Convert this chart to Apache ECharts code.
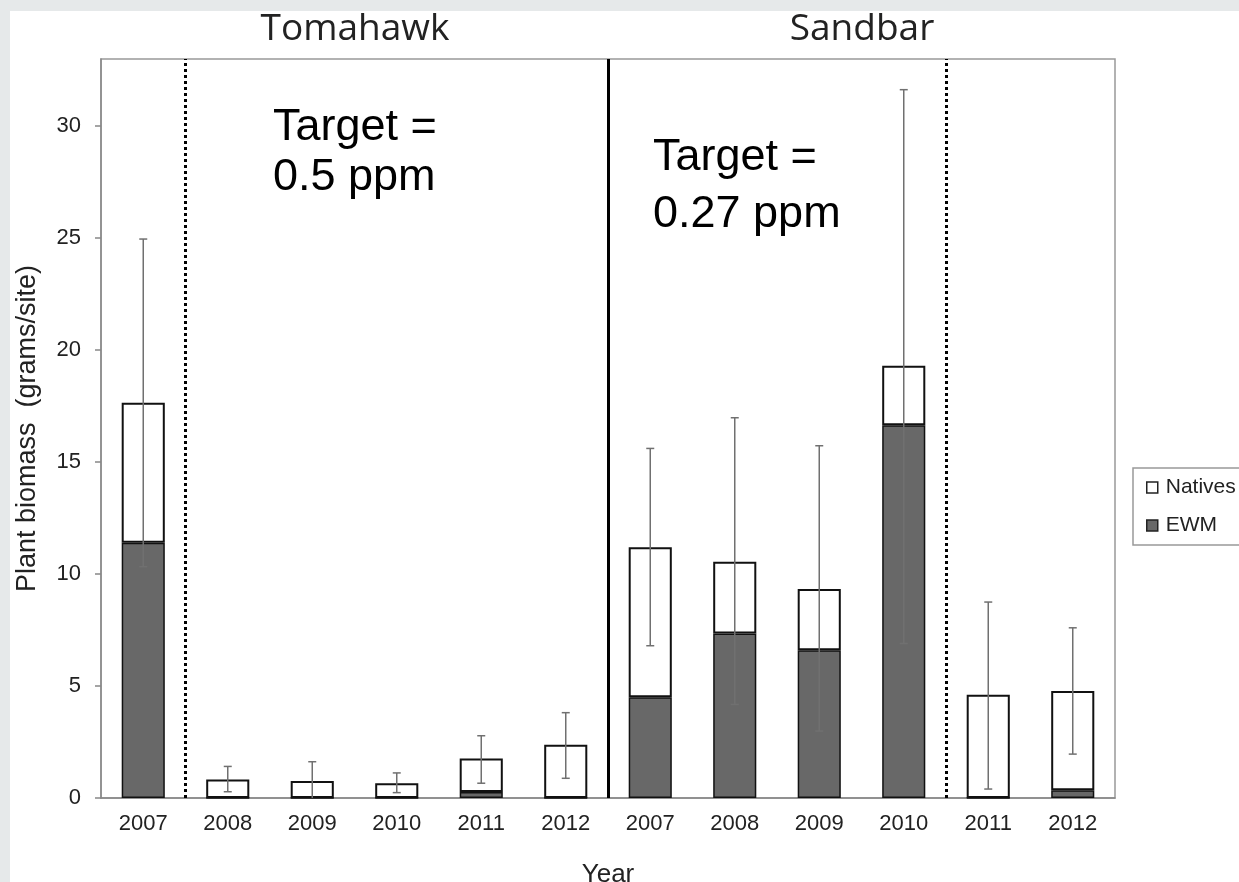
<!DOCTYPE html>
<html>
  <head>
    <meta charset="UTF-8" />
    <title>Plant biomass</title>
    <script src="https://cdn.jsdelivr.net/npm/echarts@6/dist/echarts.min.js"></script>
    <style>
      body { margin: 0; background: #e6e9ea; }
      #paper { position: absolute; left: 10px; top: 11px; right: 0; bottom: 0; background: #fff; }
      #chart { position: absolute; left: 0; top: 0; width: 1239px; height: 882px; }
    </style>
  </head>
  <body>
    <div id="paper"></div>
    <div id="chart"></div>
    <script>
      // tick labels (Tomahawk 2007-2012, then Sandbar 2007-2012)
      var years = ["2007", "2008", "2009", "2010", "2011", "2012",
                   "2007", "2008", "2009", "2010", "2011", "2012"];
      var ewm = [11.4, 0, 0, 0, 0.27, 0, 4.5, 7.35, 6.6, 16.65, 0, 0.35];
      // natives part stacked on top of EWM
      var natives = [6.25, 0.83, 0.76, 0.66, 1.49, 2.38, 6.7, 3.2, 2.73, 2.65, 4.61, 4.43];
      var errLow = [10.33, 0.28, 0, 0.24, 0.66, 0.88, 6.8, 4.18, 2.99, 6.9, 0.4, 1.96];
      var errHigh = [24.96, 1.41, 1.62, 1.12, 2.78, 3.81, 15.61, 16.98, 15.73, 31.63, 8.75, 7.6];
      // separators between groups, in category-boundary units
      var dividers = [1, 6, 10];
      var dividerSolid = [false, true, false];
      var yTicks = [0, 5, 10, 15, 20, 25, 30];

      var errData = [];
      for (var i = 0; i < years.length; i++) {
        errData.push([i, errLow[i], errHigh[i]]);
      }

      var lineData = [];
      for (var k = 0; k < dividers.length; k++) {
        lineData.push({
          xAxis: dividers[k],
          lineStyle: {
            color: "#000",
            width: 3,
            type: dividerSolid[k] ? "solid" : [3, 3],
          },
        });
      }

      var font = "Liberation Sans, Arial, sans-serif";

      var option = {
        animation: false,
        textStyle: { fontFamily: font },
        grid: {
          left: 101,
          right: 124,
          top: 59,
          bottom: 84,
          show: true,
          borderColor: "#999",
          borderWidth: 1.5,
          outerBoundsMode: "none",
        },
        legend: {
          data: ["Natives", "EWM"],
          orient: "vertical",
          left: 1133,
          top: 468,
          itemWidth: 11,
          itemHeight: 11,
          itemGap: 17,
          padding: [9, 14, 9, 13],
          borderColor: "#999",
          borderWidth: 1.5,
          backgroundColor: "#fff",
          icon: "rect",
          itemStyle: { borderColor: "#222", borderWidth: 1.5 },
          textStyle: { fontSize: 21, color: "#222", fontFamily: font, padding: [0, 0, 0, 3] },
        },
        xAxis: [
          {
            type: "category",
            data: years,
            boundaryGap: true,
            axisLine: { lineStyle: { color: "#888", width: 1.5 } },
            axisTick: { length: 6, lineStyle: { color: "#888", width: 1.5 } },
            axisLabel: { fontSize: 22, color: "#222", margin: 15 },
            name: "Year",
            nameLocation: "middle",
            nameGap: 64,
            nameTextStyle: { fontSize: 26, color: "#222" },
          },
          {
            type: "value",
            min: 0,
            max: 12,
            show: false,
          },
        ],
        yAxis: {
          type: "value",
          min: 0,
          max: 33,
          splitLine: { show: false },
          axisLine: { show: true, lineStyle: { color: "#888", width: 1.5 } },
          axisTick: { show: true, length: 6, customValues: yTicks, lineStyle: { color: "#888", width: 1.5 } },
          axisLabel: { fontSize: 22, color: "#222", margin: 20, customValues: yTicks },
          name: "Plant biomass  (grams/site)",
          nameLocation: "middle",
          nameGap: 60,
          nameTextStyle: { fontSize: 27, color: "#222" },
        },
        series: [
          {
            name: "EWM",
            type: "bar",
            stack: "total",
            barWidth: "51%",
            data: ewm,
            itemStyle: { color: "#686868", borderColor: "#111", borderWidth: 1.5 },
          },
          {
            name: "Natives",
            type: "bar",
            stack: "total",
            barWidth: "51%",
            data: natives,
            itemStyle: { color: "#fff", borderColor: "#111", borderWidth: 2 },
          },
          {
            name: "err",
            type: "custom",
            z: 5,
            data: errData,
            renderItem: function (params, api) {
              var lo = api.coord([api.value(0), api.value(1)]);
              var hi = api.coord([api.value(0), api.value(2)]);
              var w = 4;
              var style = { stroke: "#707070", lineWidth: 1.5 };
              var kids = [
                { type: "line", shape: { x1: hi[0], y1: hi[1], x2: lo[0], y2: lo[1] }, style: style },
                { type: "line", shape: { x1: hi[0] - w, y1: hi[1], x2: hi[0] + w, y2: hi[1] }, style: style },
              ];
              if (api.value(1) > 0) {
                kids.push({ type: "line", shape: { x1: lo[0] - w, y1: lo[1], x2: lo[0] + w, y2: lo[1] }, style: style });
              }
              return { type: "group", children: kids };
            },
          },
          {
            name: "dividers",
            type: "line",
            xAxisIndex: 1,
            data: [],
            showSymbol: false,
            silent: true,
            markLine: {
              silent: true,
              symbol: "none",
              label: { show: false },
              data: lineData,
            },
          },
        ],
        graphic: [
          { type: "text", x: 355, y: 29, style: { text: "Tomahawk", font: "37px 'Open Sans'", fill: "#222", align: "center", verticalAlign: "middle" } },
          { type: "text", x: 862, y: 29, style: { text: "Sandbar", font: "37px 'Open Sans'", fill: "#222", align: "center", verticalAlign: "middle" } },
          { type: "text", x: 273, y: 128, style: { text: "Target =", font: "45px 'Liberation Sans'", fill: "#000", verticalAlign: "middle" } },
          { type: "text", x: 273, y: 178, style: { text: "0.5 ppm", font: "45px 'Liberation Sans'", fill: "#000", verticalAlign: "middle" } },
          { type: "text", x: 653, y: 158, style: { text: "Target =", font: "45px 'Liberation Sans'", fill: "#000", verticalAlign: "middle" } },
          { type: "text", x: 653, y: 215, style: { text: "0.27 ppm", font: "45px 'Liberation Sans'", fill: "#000", verticalAlign: "middle" } },
        ],
      };

      var myChart = echarts.init(document.getElementById("chart"));
      myChart.setOption(option);
    </script>
  </body>
</html>
